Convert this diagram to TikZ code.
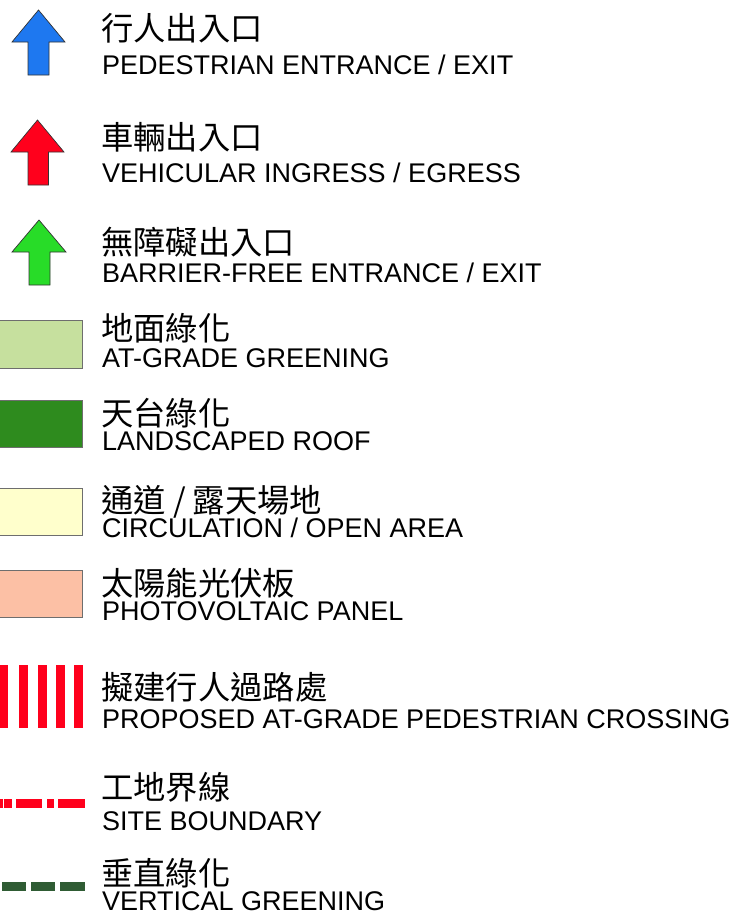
\documentclass[tikz,border=0pt]{standalone}
\usepackage{fontspec}
\setmainfont{Liberation Sans}
\newfontfamily\cjk{Noto Sans CJK TC}
\definecolor{arrblue}{RGB}{30,120,240}
\definecolor{arrred}{RGB}{255,0,28}
\definecolor{arrgreen}{RGB}{40,220,40}
\definecolor{gradegreen}{RGB}{198,224,158}
\definecolor{roofgreen}{RGB}{46,139,30}
\definecolor{circyellow}{RGB}{255,255,204}
\definecolor{pvsalmon}{RGB}{252,192,165}
\definecolor{vgreen}{RGB}{47,92,52}
\definecolor{edgegray}{RGB}{110,110,110}
\tikzset{
  cntext/.style={anchor=base west, inner sep=0pt, font=\cjk\fontsize{32.3}{32}\selectfont},
  entext/.style={anchor=base west, inner sep=0pt, font=\fontsize{27}{27}\selectfont},
  arrowshape/.style={draw=black!80, line width=0.7pt, line join=miter},
  swatch/.style={draw=edgegray, line width=0.8pt},
}
\begin{document}
\begin{tikzpicture}[x=1pt,y=-1pt]
\useasboundingbox (0,0) rectangle (738,916);
% arrows
\draw[arrowshape, fill=arrblue] (38.5,10) -- (65,42) -- (49,42) -- (49,75) -- (28,75) -- (28,42) -- (12,42) -- cycle;
\draw[arrowshape, fill=arrred] (37.5,120) -- (64,152) -- (48.5,152) -- (48.5,185) -- (28,185) -- (28,152) -- (11,152) -- cycle;
\draw[arrowshape, fill=arrgreen] (39,220) -- (66,252) -- (50,252) -- (50,285) -- (29,285) -- (29,252) -- (12,252) -- cycle;
% swatches
\draw[swatch, fill=gradegreen] (-2,320) rectangle (82,368);
\draw[swatch, fill=roofgreen] (-2,400) rectangle (82,447);
\draw[swatch, fill=circyellow] (-2,488) rectangle (82,535);
\draw[swatch, fill=pvsalmon] (-2,570) rectangle (82,617);
% crossing bars
\foreach \xa in {-1,18.8,37.5,56,74.2}
  \fill[arrred] (\xa,665) rectangle ++(9.2,63);
% site boundary
\fill[arrred] (-1,799) rectangle (3,808);
\fill[arrred] (4,799) rectangle (12,808);
\fill[arrred] (16,799) rectangle (42,808);
\fill[arrred] (47,799) rectangle (54,808);
\fill[arrred] (58,799) rectangle (85,808);
% vertical greening
\fill[vgreen] (2,882) rectangle (26,891);
\fill[vgreen] (30.5,882) rectangle (55,891);
\fill[vgreen] (60,882) rectangle (85,891);
% texts
\node[cntext] (c1) at (101,40) {行人出入口};
\node[entext] (e1) at (102,74) {PEDESTRIAN ENTRANCE / EXIT};
\node[cntext] (c2) at (101,149) {車輛出入口};
\node[entext] (e2) at (102,182) {VEHICULAR INGRESS / EGRESS};
\node[cntext] (c3) at (101,254) {無障礙出入口};
\node[entext] (e3) at (102,282) {BARRIER-FREE ENTRANCE / EXIT};
\node[cntext] (c4) at (101,340) {地面綠化};
\node[entext] (e4) at (102,367) {AT-GRADE GREENING};
\node[cntext] (c5) at (101,425) {天台綠化};
\node[entext] (e5) at (102,450) {LANDSCAPED ROOF};
\node[cntext] (c6) at (101,512) {通道 / 露天場地};
\node[entext] (e6) at (102,537) {CIRCULATION / OPEN AREA};
\node[cntext] (c7) at (101,595) {太陽能光伏板};
\node[entext] (e7) at (102,620) {PHOTOVOLTAIC PANEL};
\node[cntext] (c8) at (101,699) {擬建行人過路處};
\node[entext] (e8) at (102,728) {PROPOSED AT-GRADE PEDESTRIAN CROSSING};
\node[cntext] (c9) at (101,799) {工地界線};
\node[entext] (e9) at (102,830) {SITE BOUNDARY};
\node[cntext] (c10) at (101,885) {垂直綠化};
\node[entext] (e10) at (102,910) {VERTICAL GREENING};
\end{tikzpicture}
\end{document}
